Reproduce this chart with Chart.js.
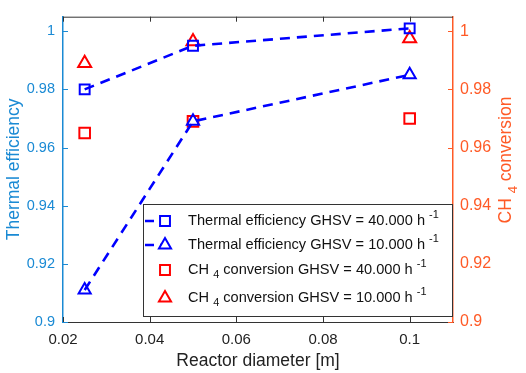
<!DOCTYPE html>
<html>
<head>
<meta charset="utf-8">
<script src="https://cdn.jsdelivr.net/npm/chart.js@4"></script>
<style>
  html, body { margin: 0; padding: 0; background: #fff; }
  #wrap { width: 526px; height: 373px; }
</style>
</head>
<body>
<div id="wrap"><canvas id="chart" width="526" height="373"></canvas></div>
<script>
// datos
const diameters = [0.025, 0.05, 0.1];
const thermalHigh = [0.980, 0.995, 1.001];   // GHSV = 40.000
const thermalLow = [0.911, 0.969, 0.985];    // GHSV = 10.000
const convHigh = [0.965, 0.969, 0.970];      // GHSV = 40.000
const convLow = [0.989, 0.9965, 0.9975];     // GHSV = 10.000
const xTicks = [0.02, 0.04, 0.06, 0.08, 0.1];
const yTicks = [0.9, 0.92, 0.94, 0.96, 0.98, 1];

const BLUE = '#0000ff';
const RED = '#ff0000';
const LEFT_C = '#1a8ad4';
const RIGHT_C = '#ff5a26';
const FONT = "'Liberation Sans', Arial, sans-serif";

const pts = arr => arr.map((v, i) => ({ x: diameters[i], y: v }));

const fixTicks = list => scale => { scale.ticks = list.map(v => ({ value: v })); };

// marcas de graduacion hacia dentro y linea superior
const framePlugin = {
  id: 'frame',
  afterDraw(chart) {
    const ctx = chart.ctx;
    const { left, right, top, bottom } = chart.chartArea;
    const { x, y, y1 } = chart.scales;
    ctx.save();
    ctx.lineWidth = 1;
    ctx.strokeStyle = '#333';
    ctx.beginPath();
    ctx.moveTo(left, top + 0.5);
    ctx.lineTo(right, top + 0.5);
    xTicks.forEach(v => {
      const px = Math.round(x.getPixelForValue(v)) + 0.5;
      ctx.moveTo(px, bottom);
      ctx.lineTo(px, bottom - 5);
      ctx.moveTo(px, top);
      ctx.lineTo(px, top + 5);
    });
    ctx.stroke();
    ctx.strokeStyle = LEFT_C;
    ctx.beginPath();
    yTicks.forEach(v => {
      const py = Math.round(y.getPixelForValue(v)) + 0.5;
      ctx.moveTo(left, py);
      ctx.lineTo(left + 5, py);
    });
    ctx.stroke();
    ctx.strokeStyle = RIGHT_C;
    ctx.beginPath();
    yTicks.forEach(v => {
      const py = Math.round(y1.getPixelForValue(v)) + 0.5;
      ctx.moveTo(right, py);
      ctx.lineTo(right - 5, py);
    });
    ctx.stroke();
    ctx.restore();
  }
};

// dibuja texto con subindices / superindices
function drawParts(ctx, parts, x, y, size) {
  let cx = x;
  parts.forEach(p => {
    const s = p.small ? size * 0.75 : size;
    ctx.font = s + 'px ' + FONT;
    ctx.fillText(p.t, cx, y + (p.dy || 0));
    cx += ctx.measureText(p.t).width;
  });
}

const legendItems = [
  { line: true, color: BLUE, style: 'rect', parts: [{ t: 'Thermal efficiency GHSV = 40.000 h ' }, { t: '-1', small: true, dy: -6 }] },
  { line: true, color: BLUE, style: 'triangle', parts: [{ t: 'Thermal efficiency GHSV = 10.000 h ' }, { t: '-1', small: true, dy: -6 }] },
  { line: false, color: RED, style: 'rect', parts: [{ t: 'CH ' }, { t: '4', small: true, dy: 5 }, { t: ' conversion GHSV = 40.000 h ' }, { t: '-1', small: true, dy: -6 }] },
  { line: false, color: RED, style: 'triangle', parts: [{ t: 'CH ' }, { t: '4', small: true, dy: 5 }, { t: ' conversion GHSV = 10.000 h ' }, { t: '-1', small: true, dy: -6 }] }
];
const legendRows = [221, 245, 270, 298];

const legendPlugin = {
  id: 'boxLegend',
  afterDraw(chart) {
    const ctx = chart.ctx;
    const bx = 143, by = 204, bw = 309, bh = 112;
    ctx.save();
    ctx.fillStyle = '#fff';
    ctx.fillRect(bx, by, bw, bh);
    ctx.strokeStyle = '#333';
    ctx.lineWidth = 1;
    ctx.strokeRect(bx + 0.5, by + 0.5, bw, bh);
    legendItems.forEach((it, i) => {
      const ry = legendRows[i];
      ctx.strokeStyle = it.color;
      ctx.lineWidth = 2.6;
      if (it.line) {
        ctx.setLineDash([9, 6]);
        ctx.beginPath();
        ctx.moveTo(145, ry);
        ctx.lineTo(172, ry);
        ctx.stroke();
        ctx.setLineDash([]);
      }
      ctx.fillStyle = '#fff';
      ctx.lineWidth = 2;
      Chart.helpers.drawPoint(ctx, { pointStyle: it.style, radius: 7, borderWidth: 2 }, 165, ry);
      ctx.fillStyle = '#111';
      ctx.textBaseline = 'middle';
      ctx.textAlign = 'left';
      drawParts(ctx, it.parts, 188, ry, 14.6);
    });
    // titulo del eje derecho
    ctx.translate(506, 160);
    ctx.rotate(-Math.PI / 2);
    ctx.fillStyle = RIGHT_C;
    ctx.textBaseline = 'middle';
    const rparts = [{ t: 'CH ' }, { t: '4', small: true, dy: 7 }, { t: ' conversion' }];
    let w = 0;
    rparts.forEach(p => {
      ctx.font = (p.small ? 17.5 * 0.75 : 17.5) + 'px ' + FONT;
      w += ctx.measureText(p.t).width;
    });
    drawParts(ctx, rparts, -w / 2, 0, 17.5);
    ctx.restore();
  }
};

const lineSet = (label, data, style) => ({
  label, data: pts(data), yAxisID: 'y',
  borderColor: BLUE, backgroundColor: 'rgba(0,0,0,0)',
  borderWidth: 2.6, borderDash: [10, 7], showLine: true,
  pointStyle: style, pointRadius: 7, pointBorderWidth: 2, pointBorderColor: BLUE
});
const markSet = (label, data, style) => ({
  label, data: pts(data), yAxisID: 'y1',
  borderColor: RED, backgroundColor: 'rgba(0,0,0,0)',
  showLine: false, pointStyle: style, pointRadius: 7.5, pointBorderWidth: 2, pointBorderColor: RED
});

new Chart(document.getElementById('chart').getContext('2d'), {
  type: 'scatter',
  data: {
    datasets: [
      lineSet('Thermal efficiency GHSV = 40.000 h-1', thermalHigh, 'rect'),
      lineSet('Thermal efficiency GHSV = 10.000 h-1', thermalLow, 'triangle'),
      markSet('CH4 conversion GHSV = 40.000 h-1', convHigh, 'rect'),
      markSet('CH4 conversion GHSV = 10.000 h-1', convLow, 'triangle')
    ]
  },
  options: {
    responsive: false,
    animation: false,
    layout: { padding: { top: 2, left: 0, right: 0, bottom: 0 } },
    plugins: { legend: { display: false }, tooltip: { enabled: false } },
    scales: {
      x: {
        type: 'linear', min: 0.02, max: 0.11,
        afterBuildTicks: fixTicks(xTicks),
        afterFit: s => { s.height = 51; },
        grid: { drawOnChartArea: false, drawTicks: false },
        border: { color: '#333', width: 1 },
        ticks: { color: '#222', padding: 9, font: { family: FONT, size: 15 }, callback: v => String(+v.toFixed(2)) },
        title: { display: true, text: 'Reactor diameter [m]', color: '#222', font: { family: FONT, size: 17.5 }, padding: { top: 0, bottom: 1 } }
      },
      y: {
        type: 'linear', position: 'left', min: 0.9, max: 1.005,
        afterBuildTicks: fixTicks(yTicks),
        afterFit: s => { s.width = 63; },
        grid: { drawOnChartArea: false, drawTicks: false },
        border: { color: LEFT_C, width: 1.5 },
        ticks: { color: LEFT_C, padding: 8, font: { family: FONT, size: 14.5 }, callback: v => String(+v.toFixed(2)) },
        title: { display: true, text: 'Thermal efficiency', color: LEFT_C, font: { family: FONT, size: 17.5 }, padding: { top: 4, bottom: 0 } }
      },
      y1: {
        type: 'linear', position: 'right', min: 0.9, max: 1.005,
        afterBuildTicks: fixTicks(yTicks),
        afterFit: s => { s.width = 73; },
        grid: { drawOnChartArea: false, drawTicks: false },
        border: { color: RIGHT_C, width: 1.5 },
        ticks: { color: RIGHT_C, padding: 7, font: { family: FONT, size: 16 }, callback: v => String(+v.toFixed(2)) }
      }
    }
  },
  plugins: [framePlugin, legendPlugin]
});
</script>
</body>
</html>
